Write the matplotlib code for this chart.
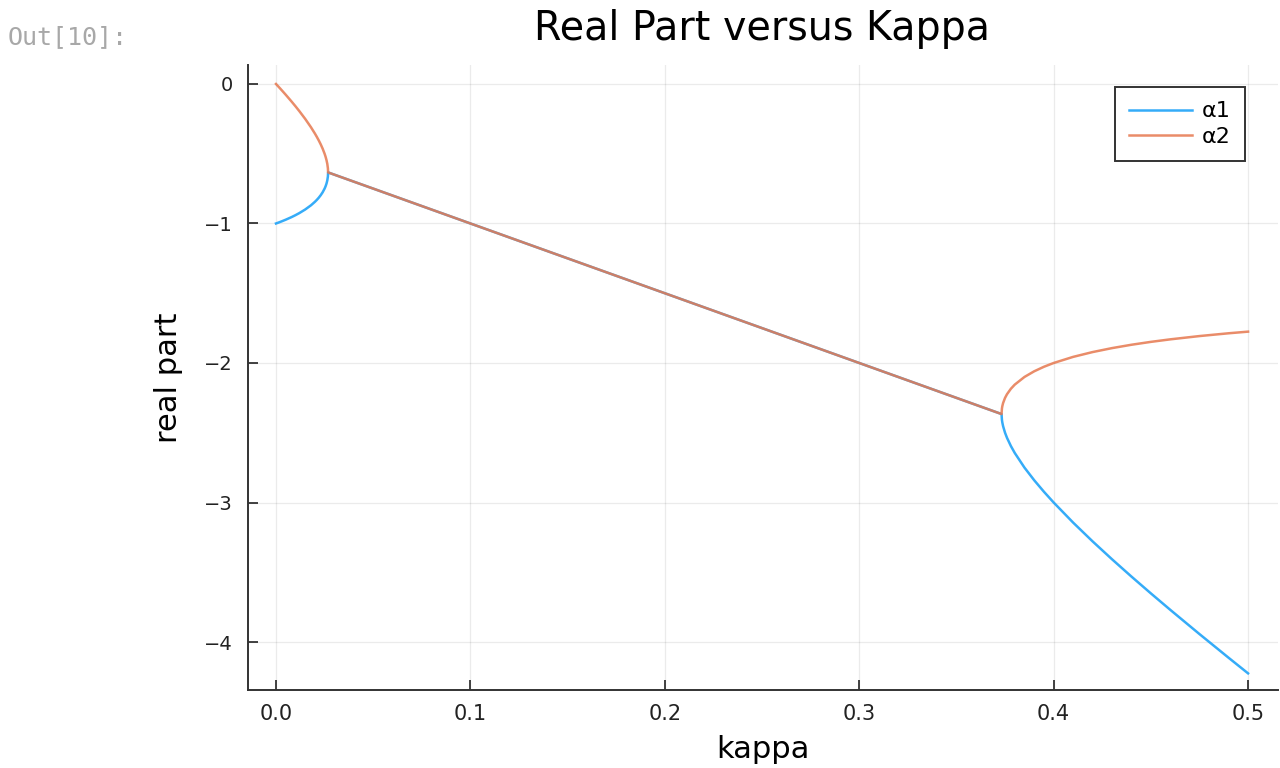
import matplotlib.pyplot as plt

# values
kappa = [0.0, 0.001, 0.002, 0.003, 0.005, 0.008, 0.01, 0.012, 0.015, 0.018, 0.02,
         0.021, 0.022, 0.023, 0.024, 0.025, 0.0255, 0.026, 0.0264, 0.0267, 0.0268,
         0.1, 0.2, 0.3, 0.3732, 0.3734, 0.3736, 0.374, 0.375, 0.376, 0.378, 0.38,
         0.385, 0.39, 0.395, 0.40, 0.41, 0.42, 0.43, 0.44, 0.45, 0.46, 0.475, 0.49, 0.5]
alpha1 = [-1.0, -0.9949, -0.9897, -0.9843, -0.9729, -0.9543, -0.9405, -0.9255, -0.90, -0.8695, -0.8449,
          -0.8309, -0.8152, -0.7973, -0.7762, -0.75, -0.7336, -0.7131, -0.6905, -0.6622, -0.634,
          -1.0, -1.5, -2.0, -2.366, -2.4081, -2.4265, -2.453, -2.5, -2.5362, -2.5952, -2.645,
          -2.75, -2.8405, -2.9229, -3.0, -3.1437, -3.2782, -3.4066, -3.5307, -3.6514, -3.7695, -3.943, -4.113, -4.2247]
alpha2 = [0.0, -0.0151, -0.0303, -0.0457, -0.0771, -0.1258, -0.1595, -0.1945, -0.25, -0.3105, -0.3551,
          -0.3791, -0.4048, -0.4327, -0.4638, -0.5, -0.5214, -0.547, -0.5735, -0.6048, -0.634,
          -1.0, -1.5, -2.0, -2.366, -2.3259, -2.3095, -2.287, -2.25, -2.2238, -2.1848, -2.155,
          -2.1, -2.0595, -2.0271, -2.0, -1.9563, -1.9218, -1.8934, -1.8693, -1.8486, -1.8305, -1.807, -1.787, -1.7753]

xticks = [0.0, 0.1, 0.2, 0.3, 0.4, 0.5]
yticks = [0, -1, -2, -3, -4]

fig = plt.figure(figsize=(12.8, 7.68), dpi=100)
ax = fig.add_axes([248 / 1280, 1 - 690 / 768, 1030 / 1280, 625 / 768])

ax.plot(kappa, alpha1, color='#1FA3F8', lw=1.8, alpha=0.9, label='α1')
ax.plot(kappa, alpha2, color='#E6784F', lw=1.8, alpha=0.85, label='α2')

ax.set_xlim(-0.0144, 0.5154)
ax.set_ylim(-4.344, 0.136)
ax.set_xticks(xticks)
ax.set_xticklabels([f'{t:.1f}' for t in xticks])
ax.set_yticks(yticks)
ax.set_yticklabels(['0', '−1', '−2', '−3', '−4'])
ax.tick_params(direction='in', length=7, width=1.2, labelsize=14, colors='#222222')
ax.tick_params(axis='x', pad=10, labelsize=15)
ax.tick_params(axis='y', pad=11)
ax.grid(True, color='#000000', alpha=0.08, lw=0.9)
for s in ['top', 'right']:
    ax.spines[s].set_visible(False)
for s in ['left', 'bottom']:
    ax.spines[s].set_linewidth(1.4)
    ax.spines[s].set_color('#333333')

ax.set_xlabel('kappa', fontsize=22, labelpad=8)
ax.set_ylabel('real part', fontsize=22, labelpad=15)
fig.text(762 / 1280, 1 - 40 / 768, 'Real Part versus Kappa', fontsize=28.5,
         ha='center', va='baseline')

leg = ax.legend(loc='upper right', bbox_to_anchor=(0.968, 0.965), borderaxespad=0,
                fontsize=16, fancybox=False, framealpha=1, edgecolor='#333333',
                handlelength=2.8, handletextpad=0.45, borderpad=0.65, labelspacing=0.25)
leg.get_frame().set_linewidth(1.4)

fig.text(8 / 1280, 1 - 37 / 768, 'Out[10]:', fontsize=18, color='#a8a8a8',
         family='DejaVu Sans Mono', va='center')

fig.savefig('out.png', dpi=100)
